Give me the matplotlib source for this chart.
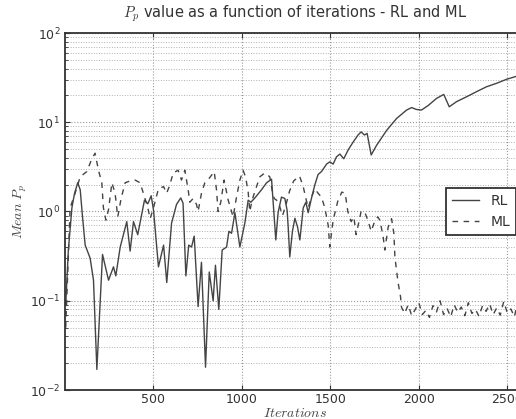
import matplotlib
matplotlib.use("Agg")
import matplotlib.pyplot as plt
import numpy as np

plt.rcParams['mathtext.fontset'] = 'cm'

rl_iter = [5, 20, 40, 55, 73, 87, 100, 115, 143, 162, 181, 213, 247, 275, 288, 313, 350, 369, 388, 412,
           450, 469, 488, 501, 529, 558, 576, 603, 631, 655, 668, 684, 700, 716, 731, 753, 772, 795, 816, 838,
           851, 870, 889, 914, 927, 942, 961, 989, 1017, 1036, 1051, 1074, 1111, 1140, 1168, 1192, 1205, 1224,
           1243, 1256, 1262, 1271, 1286, 1300, 1315, 1328, 1347, 1362, 1375, 1394, 1412, 1431, 1450, 1479,
           1497, 1516, 1535, 1554, 1576, 1601, 1629, 1657, 1674, 1693, 1708, 1731, 1761, 1818, 1874, 1931,
           1959, 1987, 2015, 2053, 2100, 2141, 2172, 2213, 2270, 2326, 2383, 2439, 2496, 2600]
rl_vals = [0.09, 0.37, 1.1, 1.6, 2.1, 1.75, 0.87, 0.42, 0.3, 0.17, 0.017, 0.33, 0.17, 0.24, 0.19, 0.4, 0.77, 0.36, 0.77, 0.55,
           1.34, 1.22, 1.5, 1.04, 0.24, 0.42, 0.16, 0.74, 1.2, 1.42, 1.24, 0.19, 0.42, 0.4, 0.53, 0.086, 0.27, 0.018, 0.21, 0.1,
           0.25, 0.08, 0.37, 0.4, 0.6, 0.57, 0.97, 0.4, 0.74, 1.34, 1.27, 1.42, 1.75, 2.1, 2.3, 0.48, 0.97, 1.45,
           1.4, 1.03, 0.67, 0.31, 0.6, 0.84, 0.67, 0.48, 1.1, 1.27, 0.97, 1.42, 1.97, 2.6, 2.8, 3.4,
           3.6, 3.4, 4.1, 4.4, 3.9, 4.9, 6.0, 7.2, 7.8, 7.2, 7.5, 4.3, 5.5, 8.1, 11.0, 13.7,
           14.6, 13.9, 13.7, 15.4, 18.5, 20.5, 14.9, 17.0, 19.3, 22.0, 25.0, 27.3, 30.3, 35.0]

ml_iter = [5, 30, 58, 87, 124, 153, 171, 190, 209, 218, 232, 247, 266, 284, 299, 318, 341, 369, 397, 425,
           444, 469, 482, 501, 529, 558, 575, 593, 612, 640, 659, 678, 697, 706, 725, 744, 753, 772, 791, 819,
           844, 857, 866, 881, 900, 923, 951, 970, 989, 1007, 1021, 1036, 1045, 1058, 1077, 1102, 1130, 1158,
           1171, 1183, 1205, 1230, 1250, 1270, 1293, 1326, 1347, 1362, 1375, 1394, 1412, 1431, 1450, 1469,
           1488, 1497, 1516, 1542, 1565, 1584, 1599, 1618, 1633, 1646, 1674, 1693, 1712, 1731, 1750, 1768,
           1780, 1798, 1808, 1827, 1846, 1859, 1865, 1874, 1883, 1897, 1902,
           1920, 1940, 1960, 1980, 2000, 2020, 2040, 2060, 2080, 2100, 2120, 2140, 2160, 2180, 2200, 2220,
           2240, 2260, 2280, 2300, 2320, 2340, 2360, 2380, 2400, 2420, 2440, 2460, 2480, 2500, 2520, 2540,
           2560, 2580, 2600]
ml_vals = [0.05, 1.1, 1.6, 2.45, 2.8, 3.9, 4.5, 2.9, 2.1, 1.1, 0.8, 1.05, 2.1, 1.6, 0.87, 1.4, 2.1, 2.2, 2.25, 2.1,
           1.6, 1.1, 0.83, 1.1, 1.8, 1.9, 1.6, 1.97, 2.7, 2.9, 2.25, 2.9, 1.75, 1.27, 1.4, 1.2, 1.0, 1.6, 2.1, 2.4,
           2.8, 1.75, 1.0, 1.27, 2.25, 1.34, 0.87, 1.45, 2.25, 2.9, 2.45, 1.65, 1.0, 1.34, 1.75, 2.45, 2.7, 2.45,
           1.75, 1.4, 1.3, 0.9, 1.2, 1.7, 2.2, 2.5, 1.9, 1.4, 1.1, 1.45, 1.8, 1.6, 1.45, 1.1,
           0.7, 0.4, 0.8, 1.3, 1.65, 1.6, 1.0, 0.77, 0.87, 0.55, 1.0, 1.0, 0.8, 0.6, 0.77, 0.87,
           0.8, 0.53, 0.37, 0.67, 0.83, 0.57, 0.31, 0.22, 0.16, 0.11, 0.085,
           0.072, 0.09, 0.068, 0.08, 0.095, 0.07, 0.078, 0.065, 0.088, 0.075, 0.1, 0.07, 0.082, 0.066, 0.09, 0.074,
           0.085, 0.068, 0.095, 0.072, 0.08, 0.067, 0.088, 0.076, 0.092, 0.07, 0.083, 0.069, 0.098, 0.073, 0.081, 0.066,
           0.1, 0.075, 0.085]

W, H = 516, 419
fig = plt.figure(figsize=(W / 100, H / 100), dpi=100)
L, R, T, B = 65, 525, 33, 390
ax = fig.add_axes([L / W, 1 - B / H, (R - L) / W, (B - T) / H])

ax.plot(rl_iter, rl_vals, color='#444444', lw=1.0, ls='-', label='RL')
ax.plot(ml_iter, ml_vals, color='#444444', lw=1.0, ls=(0, (4, 4)), label='ML')

ax.set_yscale('log')
ax.set_ylim(1e-2, 1e2)
ax.set_xlim(1, 2600)
ax.set_xticks([500, 1000, 1500, 2000, 2500])

ax.grid(True, which='major', axis='both', color='#999999', ls=':', lw=0.8)
ax.grid(True, which='minor', axis='y', color='#b0b0b0', ls=':', lw=0.7)
ax.tick_params(which='both', direction='in', top=True, right=True, labelsize=9, colors='#333333')
ax.tick_params(axis='x', pad=2)
for s in ax.spines.values():
    s.set_linewidth(1.3)
    s.set_color('#333333')

ax.set_title(r'$P_p$ value as a function of iterations - RL and ML', fontsize=10.5, color='#333333', pad=11)
ax.set_xlabel(r'$Iterations$', fontsize=10, color='#444444', labelpad=0)
ax.set_ylabel(r'$Mean\ P_p$', fontsize=10, color='#444444', labelpad=1)

leg = ax.legend(loc='center left', bbox_to_anchor=((446 - L) / (R - L), 0.5), borderaxespad=0,
                fancybox=False, framealpha=1, edgecolor='#333333', fontsize=10)
leg.get_frame().set_linewidth(1.3)
for t in leg.get_texts():
    t.set_color('#333333')

fig.savefig('out.png', dpi=100)
